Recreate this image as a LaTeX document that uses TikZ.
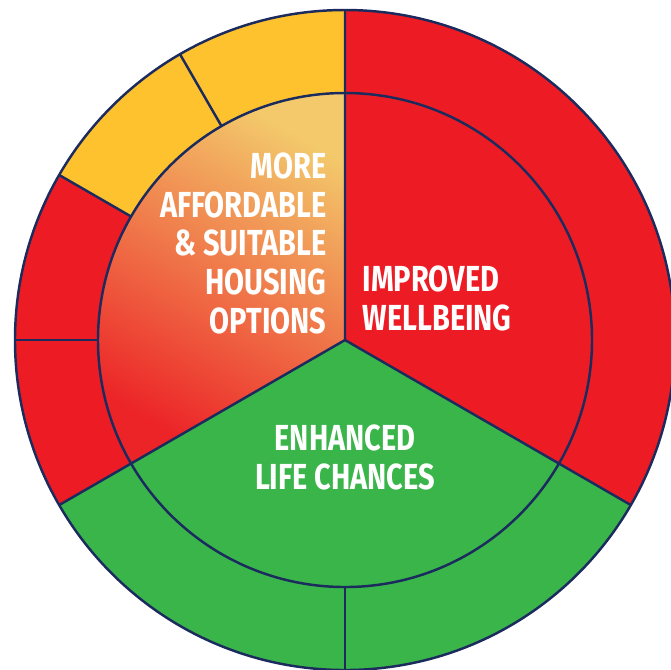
\documentclass[tikz,border=0pt]{standalone}
\usepackage{fontspec}
\newfontfamily\labelfont{Fira Sans}[FakeStretch=0.8]
\definecolor{wheelred}{HTML}{ED1C24}
\definecolor{wheelgreen}{HTML}{39B54A}
\definecolor{wheelyellow}{HTML}{FDC22D}
\definecolor{wheelnavy}{HTML}{1C2B5E}
\definecolor{fadelight}{HTML}{F3C96B}
\definecolor{fademid}{HTML}{EE8658}
\definecolor{fadered}{HTML}{EC2327}
\begin{document}
\begin{tikzpicture}[
			rim/.style={draw=wheelnavy, line width=0.7pt},
			label/.style={text=white, inner sep=0pt, font=\labelfont\bfseries\fontsize{10.3}{11}\selectfont}]
			\def\R{3.3}
			\def\r{2.47}
			\useasboundingbox (-3.45,-3.29) rectangle (3.26,3.40);
			
			% outer ring
			\fill[wheelyellow] (90:\R) arc (90:150:\R) -- (150:\r) arc (150:90:\r) -- cycle;
			\fill[wheelred] (150:\R) arc (150:210:\R) -- (210:\r) arc (210:150:\r) -- cycle;
			\fill[wheelgreen] (210:\R) arc (210:330:\R) -- (0,0) -- cycle;
			\fill[wheelred] (-30:\R) arc (-30:90:\R) -- (0,0) -- cycle;
			
			% inner sector with fade
			\shade[top color=fadelight, middle color=fademid, bottom color=fadered, shading angle=-30]
				(0,0) -- (90:\r) arc (90:210:\r) -- cycle;
			
			\draw[rim] (0,0) circle (\R);
			\draw[rim] (0,0) circle (\r);
			\draw[rim] (90:\R) -- (0,0) -- (210:\R);
			\draw[rim] (0,0) -- (330:\R);
			\foreach \a in {120,150,180,270}
				\draw[rim] (\a:\r) -- (\a:\R);
			
			\node[label, align=right, anchor=north east] (housing) at (-0.18,1.88)
				{MORE\\AFFORDABLE\\\& SUITABLE\\HOUSING\\OPTIONS};
			\node[label, align=left, anchor=north west] (wellbeing) at (0.17,0.75)
				{IMPROVED\\WELLBEING};
			\node[label, align=center, anchor=north] (chances) at (0,-0.84)
				{ENHANCED\\LIFE CHANCES};
\end{tikzpicture}
\end{document}
